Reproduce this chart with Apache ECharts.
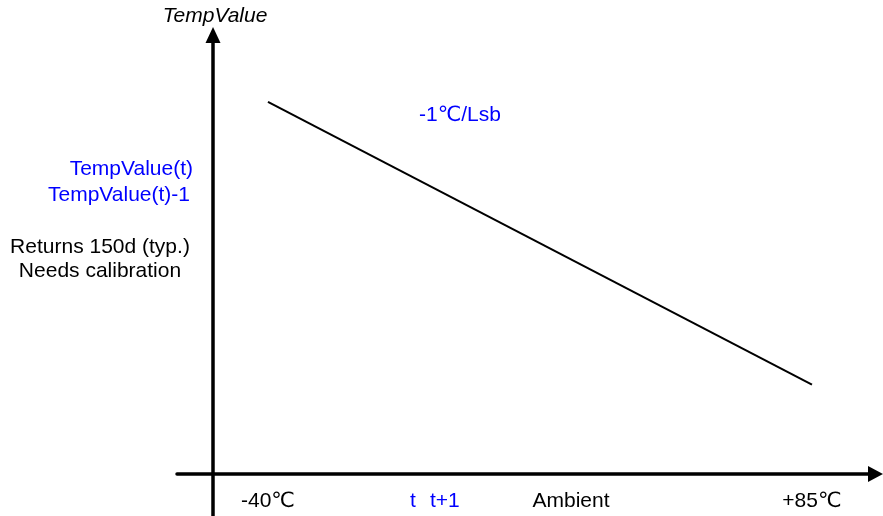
<!DOCTYPE html>
<html>
<head>
<meta charset="utf-8">
<script src="https://cdn.jsdelivr.net/npm/echarts@6/dist/echarts.min.js"></script>
<style>html,body{margin:0;padding:0;background:#fff}#c{width:883px;height:516px}</style>
</head>
<body>
<div id="c"></div>
<script>
// Data
const ambientTemps = [-40, 85];          // °C
const tempValues = [190, 65];            // Lsb (slope -1 °C/Lsb)
const xTickLabels = ['-40℃', '+85℃'];
const yAxisName = 'TempValue';
const xAxisName = 'Ambient';
const slopeLabel = '-1℃/Lsb';
const stepLabels = ['t', 't+1'];
const leftLabelsBlue = ['TempValue(t)', 'TempValue(t)-1'];
const leftLabelsBlack = ['Returns 150d (typ.)', 'Needs calibration'];

const FONT = '"Liberation Sans", Arial, "DejaVu Sans", sans-serif';
const BLUE = '#0000ff';
const chart = echarts.init(document.getElementById('c'), null, {renderer: 'canvas'});

const lineData = ambientTemps.map((t, i) => [t, tempValues[i]]);

chart.setOption({
  animation: false,
  backgroundColor: '#ffffff',
  grid: {left: 177, right: 7.5, top: 35, bottom: 0, containLabel: false, outerBoundsMode: 'none'},
  xAxis: {
    type: 'value', min: -60.9, max: 99.6, position: 'bottom', offset: -42,
    axisLine: {show: true, onZero: false, symbol: ['none', 'triangle'], symbolSize: [16, 15],
      lineStyle: {color: '#000', width: 3.5}},
    axisTick: {show: false}, splitLine: {show: false},
    axisLabel: {
      show: true, customValues: ambientTemps, margin: 17,
      formatter: v => xTickLabels[ambientTemps.indexOf(v)] || '',
      color: '#000', fontSize: 21, fontFamily: FONT
    }
  },
  yAxis: {
    type: 'value', min: 7, max: 219.5, position: 'left', offset: -36,
    name: yAxisName, nameLocation: 'end', nameGap: 19,
    nameTextStyle: {color: '#000', fontSize: 21, fontStyle: 'italic', fontFamily: FONT, align: 'center', verticalAlign: 'middle', padding: [0, 0, 0, 4]},
    axisLine: {show: true, onZero: false, symbol: ['none', 'triangle'], symbolSize: [15, 16],
      lineStyle: {color: '#000', width: 3.5}},
    axisTick: {show: false}, splitLine: {show: false}, axisLabel: {show: false}
  },
  series: [{
    type: 'line', data: lineData, symbol: 'none',
    lineStyle: {color: '#000', width: 2}, silent: true
  }],
  graphic: [
    {type: 'text', x: 419, y: 115, style: {text: slopeLabel, fill: BLUE, font: '21px ' + FONT, textVerticalAlign: 'middle', textAlign: 'left'}},
    {type: 'text', x: 193, y: 169, style: {text: leftLabelsBlue[0], fill: BLUE, font: '21px ' + FONT, textVerticalAlign: 'middle', textAlign: 'right'}},
    {type: 'text', x: 190, y: 195, style: {text: leftLabelsBlue[1], fill: BLUE, font: '21px ' + FONT, textVerticalAlign: 'middle', textAlign: 'right'}},
    {type: 'text', x: 100, y: 247, style: {text: leftLabelsBlack[0], fill: '#000', font: '21px ' + FONT, textVerticalAlign: 'middle', textAlign: 'center'}},
    {type: 'text', x: 100, y: 271, style: {text: leftLabelsBlack[1], fill: '#000', font: '21px ' + FONT, textVerticalAlign: 'middle', textAlign: 'center'}},
    {type: 'text', x: 410, y: 501, style: {text: stepLabels[0], fill: BLUE, font: '21px ' + FONT, textVerticalAlign: 'middle', textAlign: 'left'}},
    {type: 'text', x: 430, y: 501, style: {text: stepLabels[1], fill: BLUE, font: '21px ' + FONT, textVerticalAlign: 'middle', textAlign: 'left'}},
    {type: 'text', x: 571, y: 501, style: {text: xAxisName, fill: '#000', font: '21px ' + FONT, textVerticalAlign: 'middle', textAlign: 'center'}}
  ]
});
</script>
</body>
</html>
